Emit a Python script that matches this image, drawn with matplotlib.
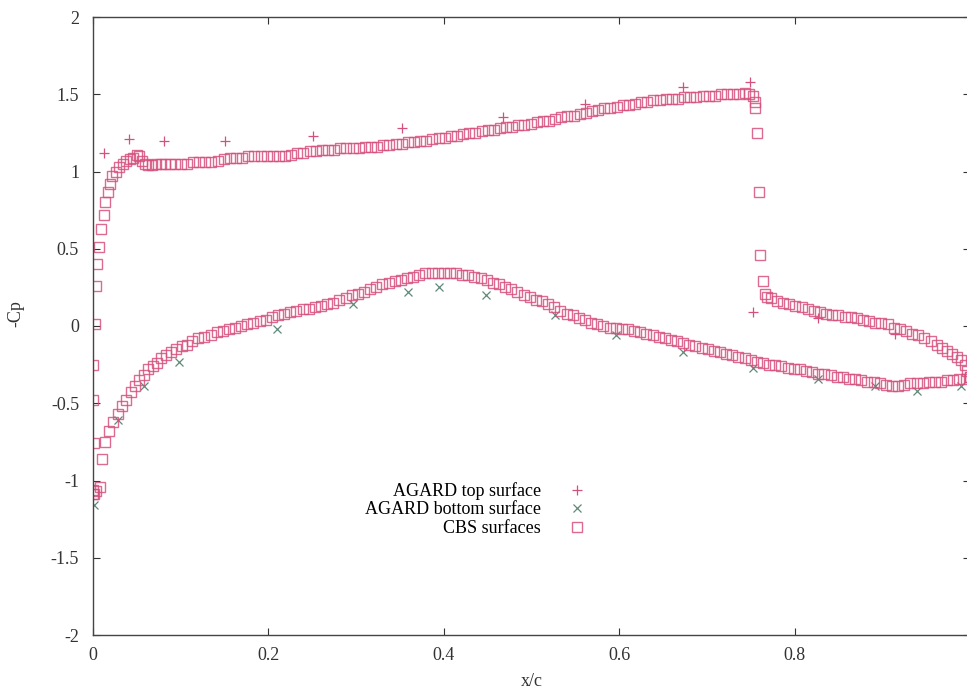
import numpy as np
import matplotlib
matplotlib.use("Agg")
import matplotlib.pyplot as plt

plt.rcParams["font.family"] = ["Liberation Serif", "DejaVu Serif"]

# AGARD experimental data
agard_top_x = [0.013, 0.041, 0.081, 0.150, 0.251, 0.352, 0.467, 0.561, 0.673, 0.749,
               0.752, 0.827, 0.914]
agard_top_cp = [1.12, 1.21, 1.20, 1.20, 1.23, 1.28, 1.35, 1.44, 1.55, 1.58,
                0.09, 0.05, -0.05]

agard_bot_x = [0.001, 0.029, 0.058, 0.098, 0.210, 0.297, 0.359, 0.395, 0.448, 0.527,
               0.596, 0.673, 0.752, 0.827, 0.892, 0.939, 0.990]
agard_bot_cp = [-1.16, -0.61, -0.39, -0.23, -0.02, 0.14, 0.22, 0.25, 0.20, 0.07,
                -0.06, -0.17, -0.27, -0.34, -0.39, -0.42, -0.39]

# CBS computed surfaces (upper surface, from leading edge)
cbs_up_x = [0.000, 0.000, 0.001, 0.000, 0.000, 0.002, 0.003, 0.005, 0.007, 0.009,
            0.012, 0.014, 0.017, 0.019, 0.022, 0.026, 0.030, 0.034, 0.038, 0.042,
            0.046, 0.050, 0.053, 0.056, 0.059, 0.063, 0.067, 0.072, 0.077, 0.082,
            0.088, 0.094, 0.100, 0.107, 0.114, 0.121, 0.128, 0.135, 0.142, 0.149,
            0.156, 0.163, 0.170, 0.177, 0.184, 0.191, 0.198, 0.205, 0.212, 0.219,
            0.226, 0.233, 0.240, 0.247, 0.254, 0.261, 0.268, 0.275, 0.282, 0.289,
            0.296, 0.303, 0.310, 0.317, 0.324, 0.331, 0.338, 0.345, 0.352, 0.359,
            0.366, 0.373, 0.380, 0.387, 0.394, 0.401, 0.408, 0.415, 0.422, 0.429,
            0.436, 0.443, 0.450, 0.457, 0.464, 0.471, 0.478, 0.485, 0.492, 0.499,
            0.506, 0.513, 0.520, 0.527, 0.534, 0.541, 0.548, 0.555, 0.562, 0.569,
            0.576, 0.583, 0.590, 0.597, 0.604, 0.611, 0.618, 0.625, 0.632, 0.639,
            0.646, 0.653, 0.660, 0.667, 0.674, 0.681, 0.688, 0.695, 0.702, 0.709,
            0.716, 0.723, 0.730, 0.737, 0.743, 0.748, 0.752, 0.755, 0.755, 0.757,
            0.759, 0.761, 0.764, 0.766, 0.768, 0.773, 0.780, 0.787, 0.794, 0.801,
            0.808, 0.815, 0.822, 0.829, 0.836, 0.843, 0.850, 0.857, 0.864, 0.871,
            0.878, 0.885, 0.892, 0.899, 0.906, 0.913, 0.920, 0.927, 0.934, 0.941,
            0.948, 0.955, 0.962, 0.968, 0.974, 0.980, 0.985, 0.990, 0.994, 0.997,
            1.000]
cbs_up_cp = [-1.09, -1.06, -0.76, -0.48, -0.25, 0.01, 0.26, 0.40, 0.51, 0.63,
             0.72, 0.80, 0.87, 0.92, 0.97, 1.00, 1.03, 1.05, 1.07, 1.08,
             1.09, 1.11, 1.10, 1.07, 1.05, 1.04, 1.04, 1.05, 1.05, 1.05,
             1.05, 1.05, 1.05, 1.05, 1.06, 1.06, 1.06, 1.06, 1.07, 1.08,
             1.09, 1.09, 1.09, 1.10, 1.10, 1.10, 1.10, 1.10, 1.10, 1.10,
             1.11, 1.12, 1.12, 1.13, 1.13, 1.14, 1.14, 1.14, 1.15, 1.15,
             1.15, 1.15, 1.16, 1.16, 1.16, 1.17, 1.17, 1.18, 1.18, 1.19,
             1.19, 1.20, 1.20, 1.21, 1.22, 1.22, 1.23, 1.23, 1.24, 1.25,
             1.25, 1.26, 1.27, 1.27, 1.28, 1.29, 1.29, 1.30, 1.30, 1.31,
             1.32, 1.33, 1.33, 1.34, 1.35, 1.36, 1.36, 1.37, 1.38, 1.39,
             1.40, 1.41, 1.41, 1.42, 1.43, 1.43, 1.44, 1.45, 1.45, 1.46,
             1.46, 1.47, 1.47, 1.47, 1.48, 1.48, 1.48, 1.49, 1.49, 1.49,
             1.50, 1.50, 1.50, 1.50, 1.51, 1.50, 1.49, 1.45, 1.41, 1.25,
             0.87, 0.46, 0.29, 0.21, 0.19, 0.18, 0.16, 0.15, 0.14, 0.13,
             0.12, 0.11, 0.10, 0.09, 0.08, 0.07, 0.07, 0.06, 0.06, 0.05,
             0.04, 0.03, 0.02, 0.02, 0.01, -0.01, -0.02, -0.03, -0.05, -0.06,
             -0.08, -0.10, -0.12, -0.14, -0.16, -0.18, -0.20, -0.22, -0.25, -0.29,
             -0.33]

# CBS computed surfaces (lower surface, from leading edge)
cbs_lo_x = [0.001, 0.003, 0.008, 0.010, 0.014, 0.018, 0.023, 0.028, 0.033, 0.038,
            0.043, 0.048, 0.053, 0.058, 0.063, 0.068, 0.073, 0.078, 0.083, 0.089,
            0.095, 0.101, 0.107, 0.113, 0.120, 0.127, 0.134, 0.141, 0.148, 0.155,
            0.162, 0.169, 0.176, 0.183, 0.190, 0.197, 0.204, 0.211, 0.218, 0.225,
            0.232, 0.239, 0.246, 0.253, 0.260, 0.267, 0.274, 0.281, 0.288, 0.295,
            0.302, 0.309, 0.316, 0.323, 0.330, 0.337, 0.344, 0.351, 0.358, 0.365,
            0.372, 0.379, 0.386, 0.393, 0.400, 0.407, 0.414, 0.421, 0.428, 0.435,
            0.442, 0.449, 0.456, 0.463, 0.470, 0.477, 0.484, 0.491, 0.498, 0.505,
            0.512, 0.519, 0.526, 0.533, 0.540, 0.547, 0.554, 0.561, 0.568, 0.575,
            0.582, 0.589, 0.596, 0.603, 0.610, 0.617, 0.624, 0.631, 0.638, 0.645,
            0.652, 0.659, 0.666, 0.673, 0.680, 0.687, 0.694, 0.701, 0.708, 0.715,
            0.722, 0.729, 0.736, 0.743, 0.750, 0.757, 0.764, 0.771, 0.778, 0.785,
            0.792, 0.799, 0.806, 0.813, 0.820, 0.827, 0.834, 0.841, 0.848, 0.855,
            0.862, 0.869, 0.876, 0.883, 0.890, 0.897, 0.904, 0.911, 0.918, 0.925,
            0.932, 0.939, 0.946, 0.953, 0.960, 0.967, 0.974, 0.981, 0.988, 0.995,
            1.000]
cbs_lo_cp = [-1.09, -1.07, -1.04, -0.86, -0.75, -0.68, -0.62, -0.57, -0.52, -0.48,
             -0.43, -0.39, -0.35, -0.32, -0.28, -0.26, -0.24, -0.21, -0.19, -0.17,
             -0.15, -0.13, -0.12, -0.10, -0.08, -0.07, -0.06, -0.04, -0.03, -0.02,
             -0.01, 0.00, 0.01, 0.02, 0.03, 0.04, 0.06, 0.07, 0.08, 0.09,
             0.10, 0.11, 0.11, 0.12, 0.13, 0.14, 0.15, 0.17, 0.18, 0.20,
             0.21, 0.22, 0.24, 0.25, 0.27, 0.28, 0.29, 0.30, 0.31, 0.32,
             0.33, 0.34, 0.34, 0.34, 0.34, 0.34, 0.34, 0.33, 0.33, 0.32,
             0.31, 0.30, 0.28, 0.27, 0.25, 0.24, 0.22, 0.20, 0.19, 0.17,
             0.16, 0.14, 0.12, 0.10, 0.08, 0.07, 0.05, 0.04, 0.02, 0.01,
             0.00, -0.01, -0.01, -0.02, -0.02, -0.03, -0.04, -0.05, -0.06, -0.07,
             -0.08, -0.09, -0.10, -0.11, -0.12, -0.13, -0.14, -0.15, -0.16, -0.17,
             -0.18, -0.19, -0.20, -0.21, -0.22, -0.23, -0.24, -0.25, -0.25, -0.26,
             -0.27, -0.28, -0.28, -0.29, -0.30, -0.31, -0.31, -0.32, -0.33, -0.33,
             -0.34, -0.34, -0.35, -0.36, -0.365, -0.37, -0.38, -0.39, -0.39, -0.385,
             -0.37, -0.37, -0.37, -0.36, -0.36, -0.36, -0.35, -0.35, -0.34, -0.34,
             -0.33]

pink = "#d6507e"
green = "#5f8a77"

fig = plt.figure(figsize=(9.67, 6.96), dpi=100)
ax = fig.add_axes([93 / 967, 61 / 696, 877 / 967, 618 / 696])

p1, = ax.plot(agard_top_x, agard_top_cp, linestyle="none", marker="+",
              markersize=7, markeredgewidth=0.9, color=pink, label="AGARD top surface")
p2, = ax.plot(agard_bot_x, agard_bot_cp, linestyle="none", marker="x",
              markersize=6, markeredgewidth=0.9, color=green, label="AGARD bottom surface")
p3, = ax.plot(cbs_up_x, cbs_up_cp, linestyle="none", marker="s", markersize=6.5,
              markerfacecolor="none", markeredgewidth=1.0, color=pink, alpha=0.85,
              label="CBS surfaces")
ax.plot(cbs_lo_x, cbs_lo_cp, linestyle="none", marker="s", markersize=6.5,
        markerfacecolor="none", markeredgewidth=1.0, color=pink, alpha=0.85)

ax.set_xlim(0, 1)
ax.set_ylim(-2, 2)
# the "1" label falls outside the cropped figure
ax.set_xticks([0, 0.2, 0.4, 0.6, 0.8, 1.0])
ax.set_xticklabels(["0", "0.2", "0.4", "0.6", "0.8", ""])
ax.set_yticks([-2, -1.5, -1, -0.5, 0, 0.5, 1, 1.5, 2])
ax.set_yticklabels(["-2", "-1.5", "-1", "-0.5", "0", "0.5", "1", "1.5", "2"])
ax.tick_params(direction="in", length=5, width=0.8, top=True, right=True,
               labelsize=13, colors="#333333")
ax.tick_params(axis="x", pad=9)
ax.tick_params(axis="y", pad=10)
for s in ax.spines.values():
    s.set_color("#444444")
    s.set_linewidth(1.0)

ax.set_xlabel("x/c", fontsize=13, color="#333333", labelpad=6)
ax.set_ylabel("-Cp", fontsize=13, color="#333333")
ax.yaxis.set_label_coords(-0.078, 0.52)

leg = ax.legend(handles=[p1, p2, p3], loc="center", bbox_to_anchor=(0.437, 0.203),
                frameon=False, markerfirst=False, fontsize=13, labelspacing=0.08,
                handlelength=1.2, handletextpad=1.4, borderpad=0)

fig.savefig("out.png", dpi=100)
